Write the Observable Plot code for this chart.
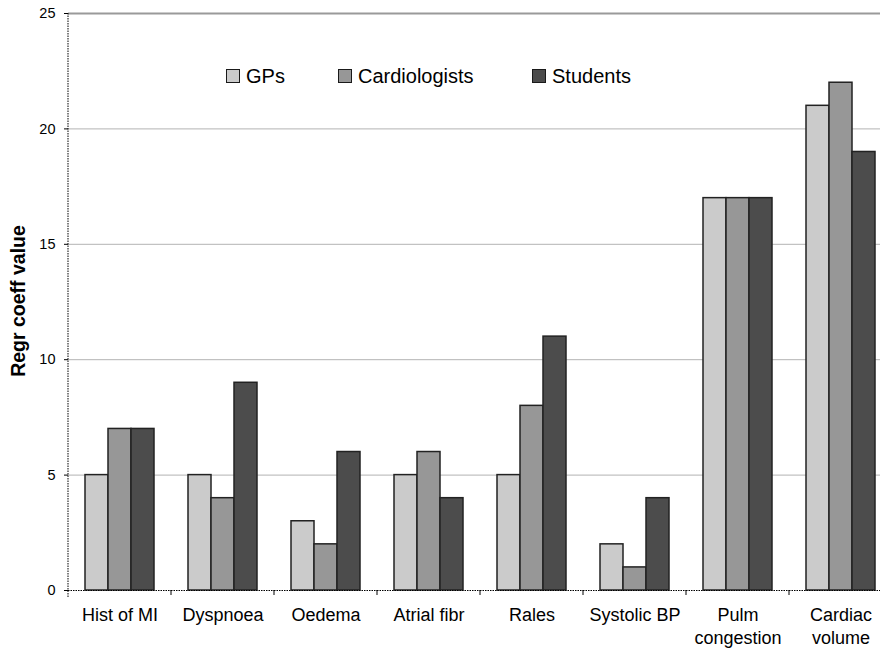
<!DOCTYPE html>
<html>
<head>
<meta charset="utf-8">
<script src="https://cdn.jsdelivr.net/npm/d3@7"></script>
<script src="https://cdn.jsdelivr.net/npm/@observablehq/plot@0.6"></script>
<style>
  body { margin: 0; background: #fff; overflow: hidden; }
  #wrap { position: relative; width: 880px; height: 649px; font-family: Arial, "Liberation Sans", sans-serif; color: #000; }
  #wrap svg { position: absolute; left: 0; top: 0; }
  .legend-item { position: absolute; top: 64px; display: flex; align-items: center; font-size: 20px; line-height: 24px; }
  .legend-item .sw { width: 12px; height: 12px; border: 1px solid #1a1a1a; margin-right: 6px; }
  #ylabel { position: absolute; left: 18px; top: 301px; transform: translate(-50%, -50%) rotate(-90deg); white-space: nowrap; font-weight: bold; font-size: 19.5px; line-height: 24px; }
</style>
</head>
<body>
<div id="wrap">
  <div id="ylabel">Regr coeff value</div>
</div>
<script>
// Regression coefficient per clinical sign, for three groups of raters
const categories = ["Hist of MI", "Dyspnoea", "Oedema", "Atrial fibr", "Rales", "Systolic BP", "Pulm\ncongestion", "Cardiac\nvolume"];
const groups = ["GPs", "Cardiologists", "Students"];
const gpValues = [5, 5, 3, 5, 5, 2, 17, 21];
const cardiologistValues = [7, 4, 2, 6, 8, 1, 17, 22];
const studentValues = [7, 9, 6, 4, 11, 4, 17, 19];
const yTicks = [0, 5, 10, 15, 20, 25];
const gridValues = [5, 10, 15, 20];
const groupColors = ["#cbcbcb", "#979797", "#4c4c4c"];

const seriesByGroup = [gpValues, cardiologistValues, studentValues];
const rows = categories.flatMap((category, i) =>
  groups.map((group, g) => ({category, group, value: seriesByGroup[g][i]}))
);

const width = 880, height = 649;
const marginTop = 13, marginBottom = 59, marginLeft = 68, marginRight = -12;

const chart = Plot.plot({
  width, height, marginTop, marginBottom, marginLeft, marginRight,
  style: {fontFamily: "Arial, 'Liberation Sans', sans-serif", color: "#000", overflow: "hidden"},
  fx: {domain: categories, padding: 0, label: null},
  x: {domain: groups, paddingInner: 0, paddingOuter: 0.71, axis: null},
  y: {domain: [0, 25], label: null},
  color: {domain: groups, range: groupColors},
  marks: [
    Plot.ruleY(gridValues, {stroke: "#b3b3b3", strokeWidth: 1}),
    Plot.ruleY([25], {stroke: "#9a9a9a", strokeWidth: 2}),
    Plot.barY(rows, {fx: "category", x: "group", y: "value", fill: "group", stroke: "#222", strokeWidth: 1.5}),
    Plot.ruleY([0], {stroke: "#000", strokeDasharray: "1.5,1"}),
    Plot.axisY({ticks: yTicks, tickSize: 4, tickPadding: 9, fontSize: 14.5, label: null}),
    Plot.axisFx({anchor: "bottom", tickSize: 0, tickPadding: 15, fontSize: 18, lineHeight: 1.25, label: null})
  ]
});

// dotted value-axis line and the short category separators under the baseline,
// positioned with the chart's own fx and y scales
const fx = chart.scale("fx");
const y = chart.scale("y");
const y0 = y.apply(0), yTop = y.apply(25);
const axisLines = d3.select(chart).append("g").attr("aria-label", "axis lines");
axisLines.append("line")
  .attr("x1", fx.apply(categories[0])).attr("x2", fx.apply(categories[0]))
  .attr("y1", yTop).attr("y2", y0 + 7)
  .attr("stroke", "#000").attr("stroke-dasharray", "1.5,1");
axisLines.selectAll(".sep").data(categories.slice(1)).join("line")
  .attr("class", "sep")
  .attr("x1", d => fx.apply(d)).attr("x2", d => fx.apply(d))
  .attr("y1", y0).attr("y2", y0 + 5)
  .attr("stroke", "#000");

const wrap = document.getElementById("wrap");
wrap.insertBefore(chart, wrap.firstChild);

// legend placed inside the plot area, near the top
const legendLeft = [226, 338, 532];
groups.forEach((g, i) => {
  const item = document.createElement("div");
  item.className = "legend-item";
  item.style.left = legendLeft[i] + "px";
  const sw = document.createElement("span");
  sw.className = "sw";
  sw.style.background = groupColors[i];
  const label = document.createElement("span");
  label.textContent = g;
  item.appendChild(sw);
  item.appendChild(label);
  wrap.appendChild(item);
});
</script>
</body>
</html>
